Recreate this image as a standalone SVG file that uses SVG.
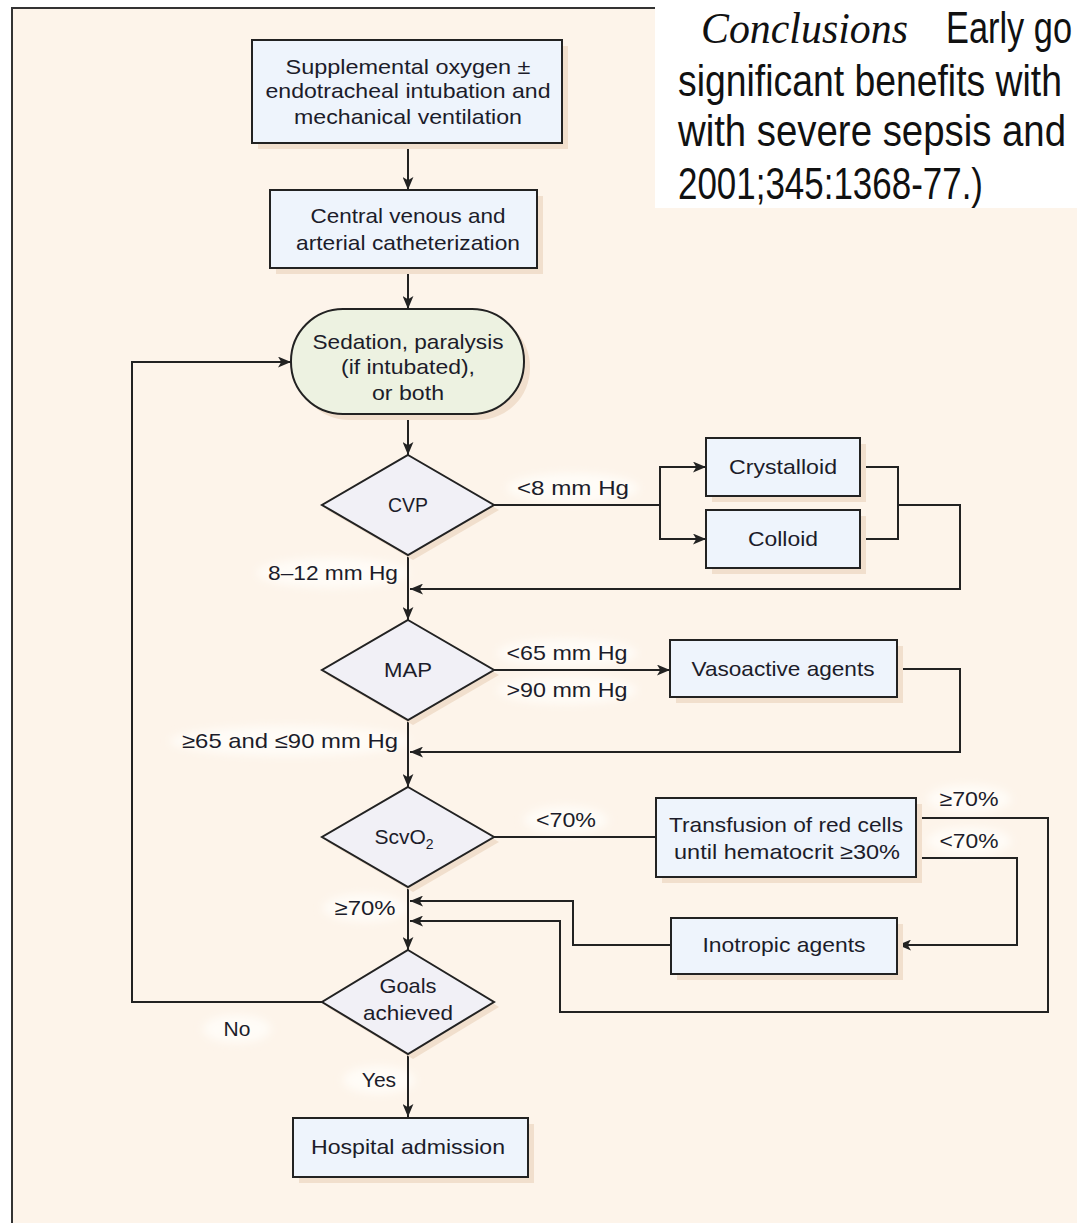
<svg xmlns="http://www.w3.org/2000/svg" width="1077" height="1223" viewBox="0 0 1077 1223">
<style>
.bg{fill:#fdf4ea}
.box{fill:#eef4fc;stroke:#222;stroke-width:2}
.dia{fill:#f1f0f6;stroke:#222;stroke-width:2}
.stad{fill:#edf2e1;stroke:#222;stroke-width:2}
.sh{fill:#f1dfcd}
.t{font-family:"Liberation Sans Narrow","Liberation Sans",Arial,sans-serif;font-size:21px;fill:#1c1c2a;text-anchor:middle}
.l{font-family:"Liberation Sans Narrow","Liberation Sans",Arial,sans-serif;font-size:21px;fill:#1c1c2a;text-anchor:middle}
.glow{fill:#fffcf7}
.c{fill:none;stroke:#222;stroke-width:2}
.big{font-family:"Liberation Sans Narrow","Liberation Sans",Arial,sans-serif;font-size:44px;fill:#111}
.it{font-family:"Liberation Serif","Times New Roman",serif;font-style:italic;font-size:44px;fill:#111}
</style>
<defs>
<marker id="ah" viewBox="0 0 12 10" refX="12" refY="5" markerWidth="13" markerHeight="11" markerUnits="userSpaceOnUse" orient="auto">
<path d="M0,0 L12,5 L0,10 L3,5 z" fill="#222"/>
</marker>
<filter id="blur" x="-30%" y="-60%" width="160%" height="220%"><feGaussianBlur stdDeviation="4"/></filter>
</defs>
<rect width="1077" height="1223" fill="#ffffff"/>
<rect class="bg" x="12" y="8" width="1065" height="1215"/>
<path d="M12,1223 V8 H656" fill="none" stroke="#333" stroke-width="2"/>
<rect x="655" y="0" width="422" height="208" fill="#ffffff"/>
<g id="excerpt">
<text class="it" x="701" y="43" textLength="207" lengthAdjust="spacingAndGlyphs">Conclusions</text>
<text class="big" x="946" y="43" textLength="126" lengthAdjust="spacingAndGlyphs">Early go</text>
<text class="big" x="678" y="96" textLength="384" lengthAdjust="spacingAndGlyphs">significant benefits with</text>
<text class="big" x="678" y="146" textLength="388" lengthAdjust="spacingAndGlyphs">with severe sepsis and</text>
<text class="big" x="678" y="199" textLength="305" lengthAdjust="spacingAndGlyphs">2001;345:1368-77.)</text>
</g>

<g id="label-glows" filter="url(#blur)">
<ellipse class="glow" cx="573" cy="488" rx="66" ry="15"/>
<ellipse class="glow" cx="333" cy="573" rx="76" ry="15"/>
<ellipse class="glow" cx="567" cy="653" rx="70" ry="14"/>
<ellipse class="glow" cx="567" cy="690" rx="70" ry="14"/>
<ellipse class="glow" cx="290" cy="741" rx="120" ry="15"/>
<ellipse class="glow" cx="566" cy="820" rx="42" ry="14"/>
<ellipse class="glow" cx="969" cy="799" rx="42" ry="14"/>
<ellipse class="glow" cx="969" cy="841" rx="42" ry="14"/>
<ellipse class="glow" cx="365" cy="908" rx="42" ry="14"/>
<ellipse class="glow" cx="237" cy="1029" rx="34" ry="14"/>
<ellipse class="glow" cx="379" cy="1080" rx="36" ry="14"/>
</g>

<g id="connectors">
<path class="c" d="M408,143 V190" marker-end="url(#ah)"/>
<path class="c" d="M408,268 V309" marker-end="url(#ah)"/>
<path class="c" d="M408,414 V455" marker-end="url(#ah)"/>
<path class="c" d="M494,505 H660 V467 H706" marker-end="url(#ah)"/>
<path class="c" d="M660,505 V539 H706" marker-end="url(#ah)"/>
<path class="c" d="M860,467 H898 V539 H860"/>
<path class="c" d="M898,505 H960 V589 H410" marker-end="url(#ah)"/>
<path class="c" d="M408,555 V620" marker-end="url(#ah)"/>
<path class="c" d="M494,670 H670" marker-end="url(#ah)"/>
<path class="c" d="M897,669 H960 V752 H410" marker-end="url(#ah)"/>
<path class="c" d="M408,720 V787" marker-end="url(#ah)"/>
<path class="c" d="M494,837 H656"/>
<path class="c" d="M916,818 H1048 V1012 H560 V921 H410" marker-end="url(#ah)"/>
<path class="c" d="M916,858 H1017 V945 H898" marker-end="url(#ah)"/>
<path class="c" d="M671,945 H573 V901 H410" marker-end="url(#ah)"/>
<path class="c" d="M408,887 V950" marker-end="url(#ah)"/>
<path class="c" d="M322,1002 H132 V362 H291" marker-end="url(#ah)"/>
<path class="c" d="M408,1054 V1117" marker-end="url(#ah)"/>
</g>

<g id="edge-labels">
<text class="l" x="573" y="495" textLength="112" lengthAdjust="spacingAndGlyphs">&lt;8 mm Hg</text>
<text class="l" x="333" y="580" textLength="130" lengthAdjust="spacingAndGlyphs">8–12 mm Hg</text>
<text class="l" x="567" y="660" textLength="121" lengthAdjust="spacingAndGlyphs">&lt;65 mm Hg</text>
<text class="l" x="567" y="697" textLength="121" lengthAdjust="spacingAndGlyphs">&gt;90 mm Hg</text>
<text class="l" x="290" y="748" textLength="216" lengthAdjust="spacingAndGlyphs">≥65 and ≤90 mm Hg</text>
<text class="l" x="566" y="827" textLength="60" lengthAdjust="spacingAndGlyphs">&lt;70%</text>
<text class="l" x="969" y="806" textLength="59" lengthAdjust="spacingAndGlyphs">≥70%</text>
<text class="l" x="969" y="848" textLength="59" lengthAdjust="spacingAndGlyphs">&lt;70%</text>
<text class="l" x="365" y="915" textLength="61" lengthAdjust="spacingAndGlyphs">≥70%</text>
<text class="l" x="237" y="1036">No</text>
<text class="l" x="379" y="1087">Yes</text>
</g>

<g id="n-oxygen">
<rect class="sh" x="258" y="46" width="310" height="103"/>
<rect class="box" x="252" y="40" width="310" height="103"/>
<text class="t" x="408" y="74" textLength="245" lengthAdjust="spacingAndGlyphs">Supplemental oxygen ±</text>
<text class="t" x="408" y="98" textLength="285" lengthAdjust="spacingAndGlyphs">endotracheal intubation and</text>
<text class="t" x="408" y="124" textLength="228" lengthAdjust="spacingAndGlyphs">mechanical ventilation</text>
</g>
<g id="n-catheter">
<rect class="sh" x="276" y="196" width="267" height="78"/>
<rect class="box" x="270" y="190" width="267" height="78"/>
<text class="t" x="408" y="223" textLength="195" lengthAdjust="spacingAndGlyphs">Central venous and</text>
<text class="t" x="408" y="250" textLength="224" lengthAdjust="spacingAndGlyphs">arterial catheterization</text>
</g>
<g id="n-sedation">
<rect class="sh" x="297" y="315" width="233" height="105" rx="52"/>
<rect class="stad" x="291" y="309" width="233" height="105" rx="52"/>
<text class="t" x="408" y="349" textLength="191" lengthAdjust="spacingAndGlyphs">Sedation, paralysis</text>
<text class="t" x="408" y="374" textLength="134" lengthAdjust="spacingAndGlyphs">(if intubated),</text>
<text class="t" x="408" y="400" textLength="72" lengthAdjust="spacingAndGlyphs">or both</text>
</g>
<g id="n-cvp">
<polygon class="sh" points="413,460 499,510 413,560 327,510"/>
<polygon class="dia" points="408,455 494,505 408,555 322,505"/>
<text class="t" x="408" y="512" textLength="40" lengthAdjust="spacingAndGlyphs">CVP</text>
</g>
<g id="n-crystalloid">
<rect class="sh" x="712" y="444" width="154" height="58"/>
<rect class="box" x="706" y="438" width="154" height="58"/>
<text class="t" x="783" y="474" textLength="108" lengthAdjust="spacingAndGlyphs">Crystalloid</text>
</g>
<g id="n-colloid">
<rect class="sh" x="712" y="516" width="154" height="58"/>
<rect class="box" x="706" y="510" width="154" height="58"/>
<text class="t" x="783" y="546" textLength="70" lengthAdjust="spacingAndGlyphs">Colloid</text>
</g>
<g id="n-map">
<polygon class="sh" points="413,625 499,675 413,725 327,675"/>
<polygon class="dia" points="408,620 494,670 408,720 322,670"/>
<text class="t" x="408" y="677" textLength="48" lengthAdjust="spacingAndGlyphs">MAP</text>
</g>
<g id="n-vasoactive">
<rect class="sh" x="676" y="646" width="227" height="57"/>
<rect class="box" x="670" y="640" width="227" height="57"/>
<text class="t" x="783" y="676" textLength="183" lengthAdjust="spacingAndGlyphs">Vasoactive agents</text>
</g>
<g id="n-scvo2">
<polygon class="sh" points="413,792 499,842 413,892 327,842"/>
<polygon class="dia" points="408,787 494,837 408,887 322,837"/>
<text class="t" x="404" y="844">ScvO<tspan font-size="14" dy="5">2</tspan></text>
</g>
<g id="n-transfusion">
<rect class="sh" x="662" y="804" width="260" height="79"/>
<rect class="box" x="656" y="798" width="260" height="79"/>
<text class="t" x="786" y="832" textLength="234" lengthAdjust="spacingAndGlyphs">Transfusion of red cells</text>
<text class="t" x="787" y="859" textLength="226" lengthAdjust="spacingAndGlyphs">until hematocrit ≥30%</text>
</g>
<g id="n-inotropic">
<rect class="sh" x="677" y="924" width="226" height="56"/>
<rect class="box" x="671" y="918" width="226" height="56"/>
<text class="t" x="784" y="952" textLength="163" lengthAdjust="spacingAndGlyphs">Inotropic agents</text>
</g>
<g id="n-goals">
<polygon class="sh" points="413,955 499,1007 413,1059 327,1007"/>
<polygon class="dia" points="408,950 494,1002 408,1054 322,1002"/>
<text class="t" x="408" y="993" textLength="57" lengthAdjust="spacingAndGlyphs">Goals</text>
<text class="t" x="408" y="1020" textLength="90" lengthAdjust="spacingAndGlyphs">achieved</text>
</g>
<g id="n-hospital">
<rect class="sh" x="299" y="1124" width="235" height="59"/>
<rect class="box" x="293" y="1118" width="235" height="59"/>
<text class="t" x="408" y="1154" textLength="194" lengthAdjust="spacingAndGlyphs">Hospital admission</text>
</g>
</svg>
